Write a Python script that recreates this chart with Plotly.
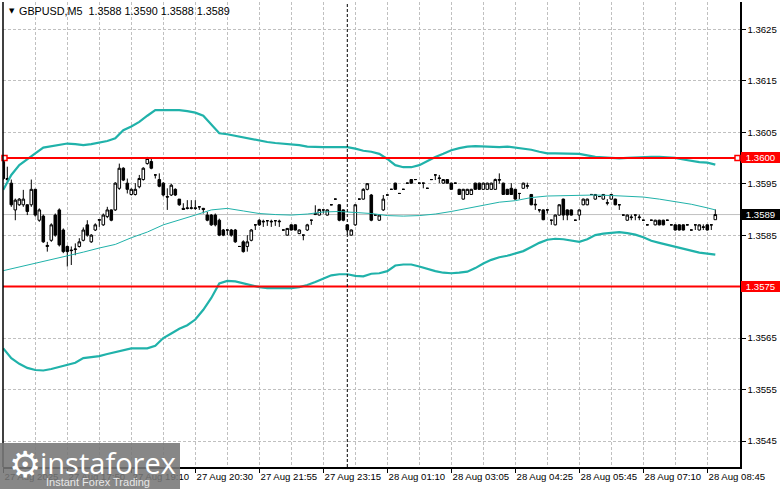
import plotly.graph_objects as go

symbol = "GBPUSD,M5"

# ---- candle data (5-minute bars, oldest first) ----
opens = [
    1.35993, 1.35960, 1.35951, 1.35899, 1.35909, 1.35909, 1.35909, 1.35909, 1.35939, 1.35879,
    1.35887, 1.35828, 1.35840, 1.35889, 1.35899, 1.35860, 1.35828, 1.35821, 1.35822, 1.35828,
    1.35840, 1.35870, 1.35837, 1.35860, 1.35879, 1.35870, 1.35886, 1.35899, 1.35899, 1.35941,
    1.35980, 1.35951, 1.35929, 1.35929, 1.35944, 1.35958, 1.35989, 1.35993, 1.35967, 1.35958,
    1.35951, 1.35925, 1.35928, 1.35939, 1.35920, 1.35902, 1.35903, 1.35902, 1.35903, 1.35905,
    1.35902, 1.35889, 1.35889, 1.35889, 1.35879, 1.35860, 1.35860, 1.35860, 1.35860, 1.35828,
    1.35837, 1.35828, 1.35840, 1.35870, 1.35879, 1.35877, 1.35878, 1.35877, 1.35878, 1.35876,
    1.35860, 1.35850, 1.35870, 1.35870, 1.35853, 1.35850, 1.35860, 1.35879, 1.35890, 1.35889,
    1.35899, 1.35889, 1.35909, 1.35920, 1.35909, 1.35899, 1.35870, 1.35850, 1.35870, 1.35920,
    1.35920, 1.35939, 1.35928, 1.35889, 1.35879, 1.35899, 1.35928, 1.35939, 1.35951, 1.35931,
    1.35939, 1.35951, 1.35958, 1.35958, 1.35951, 1.35951, 1.35941, 1.35958, 1.35967, 1.35960,
    1.35951, 1.35958, 1.35951, 1.35951, 1.35939, 1.35920, 1.35929, 1.35929, 1.35951, 1.35951,
    1.35939, 1.35939, 1.35939, 1.35939, 1.35958, 1.35951, 1.35939, 1.35941, 1.35939, 1.35931,
    1.35941, 1.35945, 1.35929, 1.35910, 1.35899, 1.35899, 1.35899, 1.35879, 1.35870, 1.35889,
    1.35920, 1.35899, 1.35899, 1.35879, 1.35889, 1.35909, 1.35909, 1.35929, 1.35920, 1.35925,
    1.35920, 1.35912, 1.35920, 1.35920, 1.35909, 1.35889, 1.35879, 1.35884, 1.35889, 1.35884,
    1.35879, 1.35870, 1.35879, 1.35870, 1.35879, 1.35879, 1.35879, 1.35870, 1.35870, 1.35870,
    1.35870, 1.35870, 1.35860, 1.35870, 1.35860, 1.35865, 1.35870, 1.35870, 1.35880,
]
highs = [
    1.36002, 1.35983, 1.35958, 1.35921, 1.35922, 1.35938, 1.35910, 1.35958, 1.35940, 1.35902,
    1.35890, 1.35837, 1.35873, 1.35892, 1.35902, 1.35863, 1.35830, 1.35828, 1.35834, 1.35844,
    1.35865, 1.35879, 1.35852, 1.35873, 1.35880, 1.35892, 1.35905, 1.35900, 1.35953, 1.35989,
    1.35982, 1.35960, 1.35941, 1.35951, 1.35967, 1.35982, 1.36002, 1.35999, 1.35968, 1.35970,
    1.35953, 1.35941, 1.35950, 1.35941, 1.35920, 1.35912, 1.35918, 1.35918, 1.35918, 1.35906,
    1.35903, 1.35895, 1.35891, 1.35892, 1.35882, 1.35862, 1.35861, 1.35862, 1.35862, 1.35829,
    1.35840, 1.35850, 1.35862, 1.35871, 1.35881, 1.35880, 1.35879, 1.35880, 1.35879, 1.35880,
    1.35861, 1.35864, 1.35871, 1.35871, 1.35861, 1.35851, 1.35872, 1.35880, 1.35908, 1.35901,
    1.35900, 1.35900, 1.35910, 1.35921, 1.35910, 1.35900, 1.35871, 1.35861, 1.35910, 1.35921,
    1.35941, 1.35951, 1.35930, 1.35890, 1.35890, 1.35928, 1.35929, 1.35940, 1.35952, 1.35932,
    1.35940, 1.35952, 1.35959, 1.35959, 1.35952, 1.35952, 1.35942, 1.35959, 1.35968, 1.35967,
    1.35959, 1.35959, 1.35952, 1.35952, 1.35940, 1.35940, 1.35940, 1.35940, 1.35952, 1.35952,
    1.35952, 1.35952, 1.35952, 1.35960, 1.35970, 1.35952, 1.35940, 1.35951, 1.35940, 1.35932,
    1.35952, 1.35952, 1.35930, 1.35920, 1.35900, 1.35900, 1.35900, 1.35880, 1.35890, 1.35910,
    1.35921, 1.35900, 1.35900, 1.35880, 1.35900, 1.35921, 1.35921, 1.35930, 1.35930, 1.35926,
    1.35930, 1.35920, 1.35930, 1.35921, 1.35910, 1.35890, 1.35890, 1.35890, 1.35890, 1.35890,
    1.35880, 1.35871, 1.35880, 1.35880, 1.35880, 1.35880, 1.35880, 1.35871, 1.35871, 1.35871,
    1.35871, 1.35871, 1.35861, 1.35871, 1.35871, 1.35871, 1.35871, 1.35871, 1.35900,
]
lows = [
    1.35957, 1.35955, 1.35905, 1.35879, 1.35907, 1.35905, 1.35889, 1.35905, 1.35886, 1.35876,
    1.35835, 1.35818, 1.35837, 1.35847, 1.35828, 1.35815, 1.35789, 1.35792, 1.35811, 1.35826,
    1.35838, 1.35847, 1.35835, 1.35858, 1.35866, 1.35868, 1.35883, 1.35877, 1.35897, 1.35938,
    1.35955, 1.35931, 1.35927, 1.35927, 1.35941, 1.35956, 1.35987, 1.35978, 1.35960, 1.35943,
    1.35925, 1.35899, 1.35926, 1.35926, 1.35907, 1.35899, 1.35900, 1.35900, 1.35899, 1.35899,
    1.35892, 1.35877, 1.35868, 1.35867, 1.35848, 1.35848, 1.35850, 1.35847, 1.35835, 1.35827,
    1.35816, 1.35818, 1.35838, 1.35860, 1.35868, 1.35866, 1.35868, 1.35866, 1.35868, 1.35866,
    1.35859, 1.35849, 1.35859, 1.35859, 1.35852, 1.35840, 1.35858, 1.35870, 1.35889, 1.35888,
    1.35892, 1.35888, 1.35908, 1.35919, 1.35877, 1.35877, 1.35850, 1.35849, 1.35868, 1.35919,
    1.35919, 1.35937, 1.35877, 1.35888, 1.35878, 1.35897, 1.35927, 1.35938, 1.35938, 1.35930,
    1.35938, 1.35950, 1.35950, 1.35957, 1.35950, 1.35941, 1.35940, 1.35957, 1.35957, 1.35951,
    1.35950, 1.35950, 1.35938, 1.35950, 1.35928, 1.35919, 1.35928, 1.35928, 1.35938, 1.35938,
    1.35938, 1.35938, 1.35938, 1.35938, 1.35950, 1.35928, 1.35928, 1.35928, 1.35919, 1.35920,
    1.35940, 1.35940, 1.35908, 1.35899, 1.35894, 1.35879, 1.35892, 1.35870, 1.35869, 1.35888,
    1.35879, 1.35879, 1.35888, 1.35878, 1.35879, 1.35908, 1.35908, 1.35928, 1.35919, 1.35924,
    1.35919, 1.35908, 1.35919, 1.35908, 1.35899, 1.35888, 1.35878, 1.35879, 1.35879, 1.35879,
    1.35878, 1.35869, 1.35878, 1.35869, 1.35869, 1.35869, 1.35878, 1.35869, 1.35859, 1.35859,
    1.35859, 1.35869, 1.35859, 1.35860, 1.35859, 1.35860, 1.35859, 1.35860, 1.35880,
]
closes = [
    1.35960, 1.35958, 1.35909, 1.35918, 1.35920, 1.35920, 1.35896, 1.35939, 1.35889, 1.35899,
    1.35837, 1.35830, 1.35870, 1.35850, 1.35831, 1.35818, 1.35818, 1.35820, 1.35823, 1.35837,
    1.35860, 1.35850, 1.35850, 1.35870, 1.35880, 1.35889, 1.35899, 1.35879, 1.35951, 1.35980,
    1.35957, 1.35939, 1.35939, 1.35939, 1.35960, 1.35980, 1.35999, 1.35980, 1.35967, 1.35945,
    1.35928, 1.35924, 1.35947, 1.35928, 1.35909, 1.35900, 1.35902, 1.35903, 1.35902, 1.35905,
    1.35900, 1.35879, 1.35870, 1.35870, 1.35850, 1.35850, 1.35860, 1.35850, 1.35837, 1.35828,
    1.35818, 1.35837, 1.35860, 1.35870, 1.35870, 1.35876, 1.35878, 1.35876, 1.35878, 1.35877,
    1.35860, 1.35863, 1.35860, 1.35860, 1.35860, 1.35850, 1.35870, 1.35879, 1.35892, 1.35900,
    1.35899, 1.35899, 1.35909, 1.35920, 1.35879, 1.35879, 1.35860, 1.35860, 1.35909, 1.35920,
    1.35939, 1.35950, 1.35879, 1.35889, 1.35889, 1.35920, 1.35928, 1.35939, 1.35939, 1.35931,
    1.35939, 1.35951, 1.35951, 1.35958, 1.35951, 1.35951, 1.35941, 1.35958, 1.35967, 1.35961,
    1.35958, 1.35951, 1.35939, 1.35951, 1.35929, 1.35939, 1.35939, 1.35939, 1.35939, 1.35939,
    1.35951, 1.35951, 1.35951, 1.35958, 1.35957, 1.35929, 1.35929, 1.35929, 1.35920, 1.35931,
    1.35951, 1.35946, 1.35909, 1.35909, 1.35899, 1.35880, 1.35899, 1.35879, 1.35889, 1.35909,
    1.35889, 1.35889, 1.35889, 1.35879, 1.35899, 1.35920, 1.35920, 1.35929, 1.35929, 1.35925,
    1.35929, 1.35913, 1.35929, 1.35909, 1.35909, 1.35889, 1.35889, 1.35885, 1.35889, 1.35885,
    1.35879, 1.35870, 1.35879, 1.35879, 1.35870, 1.35870, 1.35879, 1.35870, 1.35860, 1.35860,
    1.35860, 1.35870, 1.35860, 1.35870, 1.35870, 1.35866, 1.35860, 1.35870, 1.35890,
]

# ---- Bollinger bands (read every 2nd bar for outer bands, every 4th for middle) ----
upper_band = [
    1.35938, 1.35967, 1.35986, 1.35998, 1.36009, 1.36020, 1.36023, 1.36025, 1.36028, 1.36027,
    1.36025, 1.36027, 1.36030, 1.36033, 1.36038, 1.36054, 1.36061, 1.36070, 1.36082, 1.36093,
    1.36093, 1.36093, 1.36093, 1.36091, 1.36088, 1.36082, 1.36064, 1.36048, 1.36046, 1.36043,
    1.36040, 1.36037, 1.36033, 1.36031, 1.36029, 1.36028, 1.36027, 1.36025, 1.36022, 1.36021,
    1.36021, 1.36021, 1.36021, 1.36021, 1.36018, 1.36014, 1.36012, 1.36008, 1.35998, 1.35986,
    1.35982, 1.35982, 1.35986, 1.35994, 1.36002, 1.36008, 1.36015, 1.36019, 1.36022, 1.36023,
    1.36022, 1.36021, 1.36021, 1.36022, 1.36020, 1.36019, 1.36016, 1.36012, 1.36009, 1.36009,
    1.36009, 1.36009, 1.36008, 1.36005, 1.36002, 1.36001, 1.36000, 1.35999, 1.36000, 1.36001,
    1.36002, 1.36002, 1.36002, 1.36001, 1.36000, 1.35997, 1.35994, 1.35992, 1.35991, 1.35987,
]
lower_band = [
    1.35630, 1.35611, 1.35600, 1.35592, 1.35588, 1.35587, 1.35590, 1.35594, 1.35597, 1.35602,
    1.35611, 1.35613, 1.35615, 1.35619, 1.35623, 1.35627, 1.35630, 1.35630, 1.35630, 1.35635,
    1.35650, 1.35659, 1.35668, 1.35675, 1.35686, 1.35705, 1.35728, 1.35756, 1.35761, 1.35760,
    1.35756, 1.35752, 1.35749, 1.35747, 1.35747, 1.35747, 1.35747, 1.35749, 1.35753, 1.35759,
    1.35766, 1.35772, 1.35774, 1.35774, 1.35771, 1.35770, 1.35775, 1.35776, 1.35780, 1.35791,
    1.35793, 1.35793, 1.35789, 1.35784, 1.35780, 1.35777, 1.35776, 1.35777, 1.35779, 1.35786,
    1.35795, 1.35802, 1.35807, 1.35810, 1.35814, 1.35819, 1.35827, 1.35835, 1.35841, 1.35843,
    1.35842, 1.35840, 1.35837, 1.35842, 1.35850, 1.35853, 1.35855, 1.35856, 1.35854, 1.35851,
    1.35846, 1.35839, 1.35835, 1.35831, 1.35827, 1.35823, 1.35819, 1.35816, 1.35814, 1.35812,
]
middle_band = [
    1.35781, 1.35788, 1.35795, 1.35802, 1.35810, 1.35817, 1.35825, 1.35832, 1.35845, 1.35856,
    1.35870, 1.35879, 1.35889, 1.35899, 1.35902, 1.35897, 1.35892, 1.35890, 1.35889, 1.35891,
    1.35895, 1.35896, 1.35894, 1.35892, 1.35888, 1.35887, 1.35888, 1.35891, 1.35896, 1.35902,
    1.35907, 1.35914, 1.35917, 1.35923, 1.35926, 1.35927, 1.35928, 1.35928, 1.35927, 1.35926,
    1.35924, 1.35920, 1.35915, 1.35910, 1.35903, 1.35899,
]

# ---- tick labels (one every 16 bars) ----
tick_labels = [
    "27 Aug 2025", "27 Aug 17:50", "27 Aug 19:10", "27 Aug 20:30", "27 Aug 21:55",
    "27 Aug 23:15", "28 Aug 01:10", "28 Aug 03:05", "28 Aug 04:25", "28 Aug 05:45",
    "28 Aug 07:10", "28 Aug 08:45",
]
price_ticks = [1.3625, 1.3615, 1.3605, 1.3595, 1.3585, 1.3575, 1.3565, 1.3555, 1.3545]
levels = [1.3600, 1.3575]
cursor_bar = 86  # bar where the dashed cursor line sits

n = len(opens)
bar_idx = list(range(n))
outer_idx = list(range(0, n, 2))
mid_idx = list(range(0, n - 1, 4)) + [n - 1]
tick_idx = list(range(0, 16 * len(tick_labels), 16))
# a level's own coloured label covers the plain tick label at the same price
price_tick_text = ["" if any(abs(v - lv) < 1e-9 for lv in levels) else f"{v:.4f}"
                   for v in price_ticks]

FONT = "Liberation Sans, Arial, sans-serif"
TEAL = "#20b2aa"
GRID = "#c0c0c0"

fig = go.Figure()

fig.add_trace(go.Scatter(x=mid_idx, y=middle_band, mode="lines",
                         line=dict(color=TEAL, width=1), hoverinfo="skip"))
fig.add_trace(go.Scatter(x=outer_idx, y=upper_band, mode="lines",
                         line=dict(color=TEAL, width=2.2), hoverinfo="skip"))
fig.add_trace(go.Scatter(x=outer_idx, y=lower_band, mode="lines",
                         line=dict(color=TEAL, width=2.2), hoverinfo="skip"))
fig.add_trace(go.Candlestick(
    x=bar_idx, open=opens, high=highs, low=lows, close=closes,
    increasing=dict(fillcolor="#ffffff", line=dict(color="#000000", width=1)),
    decreasing=dict(fillcolor="#000000", line=dict(color="#000000", width=1)),
    whiskerwidth=0, hoverinfo="skip",
))

# plot-area geometry in page pixels
W, H = 781, 489
L, R, T, B = 3, 41, 2, 22
pw, ph = W - L - R, H - T - B


def px_x(px):
    return (px - L) / pw


def px_y(py):
    return (H - B - py) / ph


shapes = []
bid = closes[-1]
shapes.append(dict(type="line", xref="paper", x0=0, x1=1, yref="y", y0=bid, y1=bid,
                   line=dict(color=GRID, width=1), layer="below"))
for lv in levels:
    shapes.append(dict(type="line", xref="paper", x0=0, x1=1, yref="y", y0=lv, y1=lv,
                       line=dict(color="#ff0000", width=2), layer="above"))
# selected-object anchor squares on the 1.3600 line
for xa, x0, x1 in [(0, -1, 4), (1, -5, 0)]:
    shapes.append(dict(type="rect", xref="paper", xsizemode="pixel", xanchor=xa, x0=x0, x1=x1,
                       yref="y", ysizemode="pixel", yanchor=levels[0], y0=-2.5, y1=2.5,
                       line=dict(color="#ff0000", width=1.5), fillcolor="#ffffff", layer="above"))
shapes.append(dict(type="line", xref="x", x0=cursor_bar, x1=cursor_bar, yref="paper", y0=0, y1=1,
                   line=dict(color="#000000", width=1, dash="3px,2px"), layer="above"))
# left frame line
shapes.append(dict(type="line", xref="paper", x0=0, x1=0, yref="paper", y0=0, y1=1,
                   line=dict(color="#000000", width=1.5)))
# watermark box
shapes.append(dict(type="rect", xref="paper", yref="paper",
                   x0=px_x(0), x1=px_x(180), y0=px_y(489), y1=px_y(443),
                   fillcolor="rgba(118,118,118,0.88)", line=dict(width=0), layer="above"))

annotations = []
annotations.append(dict(xref="paper", yref="paper", x=px_x(7), y=px_y(11), text="▼",
                        showarrow=False, xanchor="left", yanchor="middle",
                        font=dict(family="DejaVu Sans", size=7, color="#000000")))
title = (f"{symbol}  {opens[-1]:.4f} {highs[-1]:.4f} {lows[-1]:.4f} {closes[-1]:.4f}")
annotations.append(dict(xref="paper", yref="paper", x=px_x(17), y=px_y(11), text=title,
                        showarrow=False, xanchor="left", yanchor="middle",
                        font=dict(family=FONT, size=10.8, color="#000000")))
for lv in levels:
    annotations.append(dict(xref="paper", x=1, yref="y", y=lv, text=f"{lv:.4f}", showarrow=False,
                            xanchor="left", yanchor="middle", xshift=1, bgcolor="#ff0000",
                            borderwidth=0, borderpad=1, width=37, height=9,
                            font=dict(family=FONT, size=9.6, color="#ffffff")))
annotations.append(dict(xref="paper", x=1, yref="y", y=bid, text=f"{bid:.4f}", showarrow=False,
                        xanchor="left", yanchor="middle", xshift=1, bgcolor="#000000",
                        borderwidth=0, borderpad=1, width=37, height=9,
                        font=dict(family=FONT, size=9.6, color="#ffffff")))
# watermark texts
annotations.append(dict(xref="paper", yref="paper", x=px_x(25), y=px_y(464), text="⚙",
                        showarrow=False, xanchor="center", yanchor="middle",
                        font=dict(family="DejaVu Sans", size=36, color="#ffffff")))
annotations.append(dict(xref="paper", yref="paper", x=px_x(108), y=px_y(462), text="instaforex",
                        showarrow=False, xanchor="center", yanchor="middle",
                        font=dict(family="Open Sans", size=29, color="#ffffff")))
annotations.append(dict(xref="paper", yref="paper", x=px_x(98), y=px_y(482),
                        text="Instant Forex Trading", showarrow=False, xanchor="center",
                        yanchor="middle", font=dict(family=FONT, size=11, color="#e8e8e8")))

fig.update_layout(
    width=W, height=H, autosize=False,
    margin=dict(l=L, r=R, t=T, b=B, pad=0, autoexpand=False),
    paper_bgcolor="#ffffff", plot_bgcolor="#ffffff",
    showlegend=False, hovermode=False,
    boxgap=0.32, boxgroupgap=0.05,
    shapes=shapes, annotations=annotations,
    font=dict(family=FONT, size=9.6, color="#000000"),
)
fig.update_xaxes(
    range=[-0.075, 184.175], fixedrange=True, automargin=False,
    rangeslider=dict(visible=False),
    tickmode="array", tickvals=tick_idx, ticktext=tick_labels, tickangle=0,
    ticks="outside", ticklen=4, tickcolor="#000000", tickwidth=1,
    ticklabelposition="outside right",
    tickfont=dict(family=FONT, size=9.6, color="#000000"),
    showline=True, linecolor="#000000", linewidth=1.5,
    showgrid=True, gridcolor=GRID, gridwidth=1, griddash="3px,2px",
    minor=dict(tick0=0, dtick=8, showgrid=True, gridcolor=GRID, gridwidth=1,
               griddash="3px,2px", ticks=""),
    zeroline=False,
)
fig.update_yaxes(
    range=[1.353995, 1.363030], fixedrange=True, side="right", automargin=False,
    tickmode="array", tickvals=price_ticks, ticktext=price_tick_text,
    ticks="outside", ticklen=4, tickcolor="#000000", tickwidth=1,
    tickfont=dict(family=FONT, size=9.6, color="#000000"),
    showline=True, linecolor="#000000", linewidth=1.5,
    showgrid=True, gridcolor=GRID, gridwidth=1, griddash="3px,2px",
    zeroline=False,
)

fig.write_html(
    "out.html",
    config={"displayModeBar": False, "staticPlot": True},
    post_script="document.body.style.margin='0';document.body.style.overflow='hidden';",
)
